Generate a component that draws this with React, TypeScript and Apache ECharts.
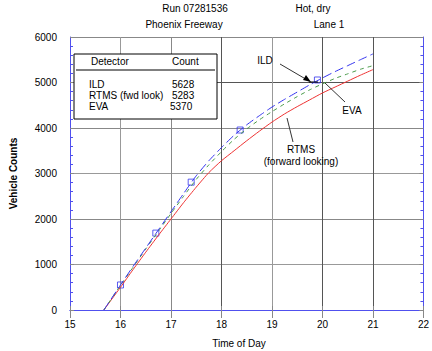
import React, { useEffect, useRef } from "react";
import * as echarts from "echarts";

// Time of day (hours) for sampled curve points
const hours = [15.67, 16.0, 16.25, 16.5, 16.75, 17.0, 17.25, 17.5, 17.75, 18.0, 18.25, 18.5, 18.75, 19.0, 19.25, 19.5, 19.75, 20.0, 20.25, 20.5, 20.75, 21.0];
const ildCounts = [0, 550, 960, 1360, 1760, 2160, 2560, 2950, 3280, 3570, 3840, 4070, 4270, 4460, 4630, 4790, 4950, 5100, 5240, 5370, 5500, 5628];
const rtmsCounts = [0, 500, 890, 1270, 1640, 2000, 2360, 2700, 3020, 3280, 3500, 3720, 3930, 4130, 4310, 4470, 4620, 4770, 4900, 5030, 5160, 5283];
const evaCounts = [0, 540, 940, 1340, 1730, 2120, 2500, 2870, 3190, 3480, 3750, 3980, 4180, 4360, 4530, 4690, 4840, 4970, 5090, 5190, 5290, 5370];

// ILD square markers
const markerHours = [16.0, 16.7, 17.4, 18.37, 19.9];
const markerCounts = [550, 1690, 2810, 3956, 5055];

// Legend table
const detectors = ["ILD", "RTMS (fwd look)", "EVA"];
const totals = ["5628", "5283", "5370"];

const xTicks = { min: 15, max: 22, interval: 1 };
const yTicks = { min: 0, max: 6000, interval: 1000 };

const FONT = "'Liberation Sans', Arial, sans-serif";
const AXIS_BLUE = "#5050ee";

export default function App() {
  const ref = useRef<HTMLDivElement>(null);
  useEffect(() => {
    if (!ref.current) return;
    const chart = echarts.init(ref.current, null, { renderer: "svg" });
    const pairs = (xs: number[], ys: number[]) => xs.map((x, i) => [x, ys[i]]);
    const txt = (x: number, y: number, text: string, align = "center", extra: any = {}) => ({
      type: "text",
      x,
      y,
      z: 100,
      style: { text, fill: "#000", font: `10px ${FONT}`, textAlign: align, textVerticalAlign: "middle", ...extra },
    });
    const ln = (x1: number, y1: number, x2: number, y2: number, stroke = "#333") => ({
      type: "line",
      z: 100,
      shape: { x1, y1, x2, y2 },
      style: { stroke, lineWidth: 1 },
    });

    const legendRows: any[] = [];
    detectors.forEach((d, i) => {
      legendRows.push(txt(89, 84 + i * 11, d, "left"));
      legendRows.push(txt(172 - (i === 2 ? 2 : 0), 84 + i * 11, totals[i], "left"));
    });

    chart.setOption({
      animation: false,
      textStyle: { fontFamily: FONT },
      grid: { left: 64, right: 6, top: 37, bottom: 41 },
      xAxis: [
        {
          type: "value",
          ...xTicks,
          axisLine: { lineStyle: { color: AXIS_BLUE } },
          axisTick: { show: true, inside: true, length: 4, lineStyle: { color: "#888" } },
          axisLabel: { color: "#000", fontSize: 10, fontFamily: FONT, margin: 9 },
          splitLine: {
            show: true,
            lineStyle: { color: ["#888", "#999", "#888", "#555", "#999", "#555", "#555", "#555"], width: 1 },
          },
        },
        {
          type: "value",
          position: "top",
          ...xTicks,
          axisLine: { lineStyle: { color: AXIS_BLUE } },
          axisTick: { show: true, inside: true, length: 8, lineStyle: { color: "#888" } },
          axisLabel: { show: false },
          splitLine: { show: false },
        },
      ],
      yAxis: [
        {
          type: "value",
          ...yTicks,
          axisLine: { show: true, lineStyle: { color: AXIS_BLUE } },
          axisTick: { show: true, inside: true, length: 4, lineStyle: { color: "#888" } },
          minorTick: { show: true, splitNumber: 5, length: 3, lineStyle: { color: AXIS_BLUE } },
          axisLabel: { color: "#000", fontSize: 10, fontFamily: FONT, margin: 13, formatter: (v: number) => String(v) },
          splitLine: {
            show: true,
            lineStyle: { color: ["#888", "#999", "#888", "#999", "#888", "#555", "#888"], width: 1 },
          },
          name: "Vehicle Counts",
          nameLocation: "middle",
          nameGap: 52,
          nameTextStyle: { color: "#000", fontSize: 10, fontWeight: "bold", fontFamily: FONT },
        },
        {
          type: "value",
          position: "right",
          ...yTicks,
          axisLine: { show: true, lineStyle: { color: AXIS_BLUE } },
          axisTick: { show: true, inside: true, length: 4, lineStyle: { color: "#888" } },
          minorTick: { show: true, splitNumber: 5, length: 3, lineStyle: { color: AXIS_BLUE } },
          axisLabel: { show: false },
          splitLine: { show: false },
        },
      ],
      series: [
        {
          name: "RTMS",
          type: "line",
          data: pairs(hours, rtmsCounts),
          showSymbol: false,
          smooth: 0.2,
          lineStyle: { color: "#ee3333", width: 1 },
        },
        {
          name: "EVA",
          type: "line",
          data: pairs(hours, evaCounts),
          showSymbol: false,
          smooth: 0.2,
          lineStyle: { color: "#4a9a4a", width: 1, type: [4, 4] },
        },
        {
          name: "ILD",
          type: "line",
          data: pairs(hours, ildCounts),
          showSymbol: false,
          smooth: 0.2,
          lineStyle: { color: "#3333ee", width: 1, type: [9, 4] },
        },
        {
          name: "ILD markers",
          type: "scatter",
          data: pairs(markerHours, markerCounts),
          symbol: "rect",
          symbolSize: 6,
          itemStyle: { color: "rgba(255,255,255,0)", borderColor: "#3333ee", borderWidth: 1 },
        },
      ],
      graphic: [
        txt(195, 8, "Run 07281536"),
        txt(313, 8, "Hot, dry"),
        txt(184, 24, "Phoenix Freeway"),
        txt(329, 24, "Lane 1"),
        txt(239, 343, "Time of Day"),
        {
          type: "rect",
          z: 90,
          shape: { x: 74, y: 54, width: 143, height: 65 },
          style: { fill: "#fff", stroke: "#000", lineWidth: 1 },
        },
        txt(91, 61, "Detector", "left"),
        txt(172, 61, "Count", "left"),
        ln(76, 70, 215, 70, "#000"),
        ...legendRows,
        // ILD annotation with arrow
        txt(265, 60, "ILD"),
        ln(280, 64, 309, 81, "#333"),
        {
          type: "polygon",
          z: 100,
          shape: { points: [[311, 82], [303, 80], [306, 75]] },
          style: { fill: "#000" },
        },
        ln(309, 82, 318, 82, "#000"),
        // EVA annotation
        txt(352, 110, "EVA"),
        ln(345, 102, 325, 83, "#333"),
        // RTMS annotation
        txt(301, 149, "RTMS"),
        txt(301, 161, "(forward looking)"),
        ln(293, 142, 287, 118, "#333"),
      ],
    });
    return () => chart.dispose();
  }, []);
  return <div ref={ref} style={{ position: "fixed", left: 0, top: 0, width: 432, height: 351, background: "#fff" }} />;
}
